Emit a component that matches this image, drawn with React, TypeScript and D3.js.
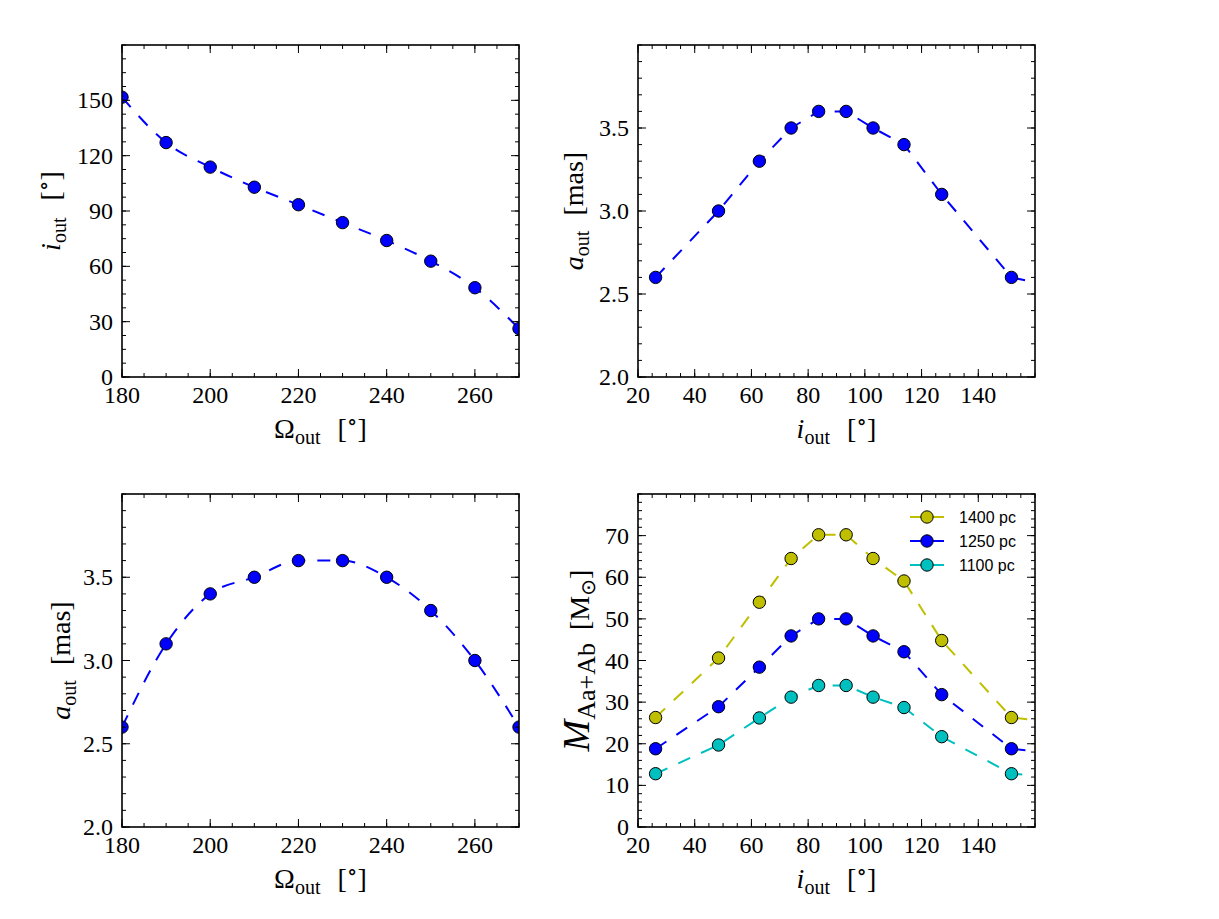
import React from 'react';
import * as d3 from 'd3';

// ---- data ----
const omegaOut = [180, 190, 200, 210, 220, 230, 240, 250, 260, 270];
const inclOut = [151.7, 127.1, 113.8, 102.9, 93.4, 83.7, 74.0, 62.8, 48.4, 26.2];
const aOutVsOmega = [2.6, 3.1, 3.4, 3.5, 3.6, 3.6, 3.5, 3.3, 3.0, 2.6];

const inclAsc = [26.2, 48.4, 62.8, 74.0, 83.7, 93.4, 102.9, 113.8, 127.1, 151.7];
const aOutVsIncl = [2.6, 3.0, 3.3, 3.5, 3.6, 3.6, 3.5, 3.4, 3.1, 2.6];
const mass1400 = [26.3, 40.6, 54.0, 64.5, 70.2, 70.2, 64.5, 59.1, 44.8, 26.3];
const mass1250 = [18.8, 28.9, 38.4, 45.9, 50.0, 50.0, 45.9, 42.1, 31.8, 18.8];
const mass1100 = [12.8, 19.7, 26.2, 31.2, 34.0, 34.0, 31.2, 28.7, 21.7, 12.8];

// model-curve values where the dashed curves leave the right edge (i = 160)
const tailIncl = 160;
const aOutTail = 2.57;
const mass1400Tail = 25.7;
const mass1250Tail = 18.2;
const mass1100Tail = 12.4;

const legendLabels = ['1400 pc', '1250 pc', '1100 pc'];

const omegaTicks = [180, 200, 220, 240, 260];
const inclTicks = [20, 40, 60, 80, 100, 120, 140];
const inclYTicks = [0, 30, 60, 90, 120, 150];
const aTicks = [2.0, 2.5, 3.0, 3.5];
const massTicks = [0, 10, 20, 30, 40, 50, 60, 70];

const BLUE = '#0000ff';
const OLIVE = '#bfbf00';
const CYAN = '#00bfbf';
const SERIF = "'Liberation Serif', 'DejaVu Serif', serif";
const SANS = "'Liberation Sans', Arial, sans-serif";

const tickFont: React.CSSProperties = { fontFamily: SERIF, fontSize: '24px' };
const labelFont: React.CSSProperties = { fontFamily: SERIF, fontSize: '28px' };
const subFont: React.CSSProperties = { fontSize: '20px' };

type Series = { xs: number[]; ys: number[]; lx: number[]; ly: number[]; color: string };

type PanelProps = {
  id: string;
  x0: number; y0: number; x1: number; y1: number;
  xDomain: [number, number]; yDomain: [number, number];
  xTicks: number[]; xMinor: number;
  yTicks: number[]; yMinor: number;
  yFmt: (v: number) => string;
  series: Series[];
  curve: d3.CurveFactory;
  children?: React.ReactNode;
};

function Panel(p: PanelProps) {
  const xs = d3.scaleLinear().domain(p.xDomain).range([p.x0, p.x1]);
  const ys = d3.scaleLinear().domain(p.yDomain).range([p.y1, p.y0]);
  const eps = 1e-6;
  const xMinorVals = d3.range(p.xDomain[0], p.xDomain[1] + eps, p.xMinor);
  const yMinorVals = d3.range(p.yDomain[0], p.yDomain[1] + eps, p.yMinor);
  const line = d3.line<[number, number]>().x(d => xs(d[0])).y(d => ys(d[1])).curve(p.curve);
  const tickStroke = { stroke: '#000', strokeWidth: 1 };
  return (
    <g>
      <defs>
        <clipPath id={p.id}>
          <rect x={p.x0} y={p.y0} width={p.x1 - p.x0} height={p.y1 - p.y0} />
        </clipPath>
      </defs>
      <g clipPath={`url(#${p.id})`}>
        {p.series.map((s, i) => (
          <path key={'l' + i} d={line(s.lx.map((x, k) => [x, s.ly[k]] as [number, number])) || ''}
            fill="none" stroke={s.color} strokeWidth={2} strokeDasharray="13 12" />
        ))}
        {p.series.map((s, i) => s.xs.map((x, k) => (
          <circle key={'m' + i + '_' + k} cx={xs(x)} cy={ys(s.ys[k])} r={6.2}
            fill={s.color} stroke="#000" strokeWidth={1} />
        )))}
      </g>
      {xMinorVals.map((v, i) => (
        <g key={'xm' + i}>
          <line x1={xs(v)} x2={xs(v)} y1={p.y1} y2={p.y1 - 4} {...tickStroke} />
          <line x1={xs(v)} x2={xs(v)} y1={p.y0} y2={p.y0 + 4} {...tickStroke} />
        </g>
      ))}
      {yMinorVals.map((v, i) => (
        <g key={'ym' + i}>
          <line x1={p.x0} x2={p.x0 + 4} y1={ys(v)} y2={ys(v)} {...tickStroke} />
          <line x1={p.x1} x2={p.x1 - 4} y1={ys(v)} y2={ys(v)} {...tickStroke} />
        </g>
      ))}
      {p.xTicks.map((v, i) => (
        <g key={'xt' + i}>
          <line x1={xs(v)} x2={xs(v)} y1={p.y1} y2={p.y1 - 8} {...tickStroke} />
          <line x1={xs(v)} x2={xs(v)} y1={p.y0} y2={p.y0 + 8} {...tickStroke} />
          <text x={xs(v)} y={p.y1 + 26} textAnchor="middle" style={tickFont}>{String(v)}</text>
        </g>
      ))}
      {p.yTicks.map((v, i) => (
        <g key={'yt' + i}>
          <line x1={p.x0} x2={p.x0 + 8} y1={ys(v)} y2={ys(v)} {...tickStroke} />
          <line x1={p.x1} x2={p.x1 - 8} y1={ys(v)} y2={ys(v)} {...tickStroke} />
          <text x={p.x0 - 9} y={ys(v) + 8} textAnchor="end" style={tickFont}>{p.yFmt(v)}</text>
        </g>
      ))}
      <rect x={p.x0} y={p.y0} width={p.x1 - p.x0} height={p.y1 - p.y0} fill="none" stroke="#000" strokeWidth={1.6} />
      {p.children}
    </g>
  );
}

const Deg = () => (
  <>
    <tspan dx={10}>[</tspan>
    <tspan style={{ fontSize: '22px', fontFamily: "'DejaVu Serif', serif" }} dy={-9}>∘</tspan>
    <tspan dy={9}>]</tspan>
  </>
);

function XLabelOmega({ cx, y }: { cx: number; y: number }) {
  return (
    <text x={cx} y={y} textAnchor="middle" style={labelFont}>
      Ω<tspan style={subFont} dy={6}>out</tspan><tspan dy={-6}> </tspan><Deg />
    </text>
  );
}
function XLabelIncl({ cx, y }: { cx: number; y: number }) {
  return (
    <text x={cx} y={y} textAnchor="middle" style={labelFont}>
      <tspan fontStyle="italic">i</tspan><tspan style={subFont} dy={6}>out</tspan><tspan dy={-6}> </tspan><Deg />
    </text>
  );
}

export default function App() {
  const fmtInt = d3.format('d');
  const fmt1 = d3.format('.1f');
  const TL = { x0: 122, x1: 519, y0: 45, y1: 377 };
  const TR = { x0: 638, x1: 1035, y0: 45, y1: 377 };
  const BL = { x0: 122, x1: 519, y0: 494, y1: 827 };
  const BR = { x0: 638, x1: 1035, y0: 494, y1: 827 };

  const legendColors = [OLIVE, BLUE, CYAN];

  return (
    <svg width={1219} height={919} style={{ position: 'absolute', left: 0, top: 0, background: '#fff' }}>
      <rect x={0} y={0} width={1219} height={919} fill="#fff" />
      <Panel id="cTL" {...TL} xDomain={[180, 270]} yDomain={[0, 180]} xTicks={omegaTicks} xMinor={5}
        yTicks={inclYTicks} yMinor={7.5} yFmt={fmtInt} curve={d3.curveMonotoneX}
        series={[{ xs: omegaOut, ys: inclOut, lx: omegaOut, ly: inclOut, color: BLUE }]}>
        <XLabelOmega cx={(TL.x0 + TL.x1) / 2} y={438} />
        <text transform={`translate(60,${(TL.y0 + TL.y1) / 2}) rotate(-90)`} textAnchor="middle" style={labelFont}>
          <tspan fontStyle="italic">i</tspan><tspan style={subFont} dy={6}>out</tspan><tspan dy={-6}> </tspan><Deg />
        </text>
      </Panel>

      <Panel id="cTR" {...TR} xDomain={[20, 160]} yDomain={[2, 4]} xTicks={inclTicks} xMinor={5}
        yTicks={aTicks} yMinor={0.1} yFmt={fmt1} curve={d3.curveLinear}
        series={[{ xs: inclAsc, ys: aOutVsIncl, lx: [...inclAsc, tailIncl], ly: [...aOutVsIncl, aOutTail], color: BLUE }]}>
        <XLabelIncl cx={(TR.x0 + TR.x1) / 2} y={438} />
        <text transform={`translate(583,${(TR.y0 + TR.y1) / 2}) rotate(-90)`} textAnchor="middle" style={labelFont}>
          <tspan fontStyle="italic">a</tspan><tspan style={subFont} dy={6}>out</tspan><tspan dy={-6}> </tspan><tspan dx={8}>[mas]</tspan>
        </text>
      </Panel>

      <Panel id="cBL" {...BL} xDomain={[180, 270]} yDomain={[2, 4]} xTicks={omegaTicks} xMinor={5}
        yTicks={aTicks} yMinor={0.1} yFmt={fmt1} curve={d3.curveMonotoneX}
        series={[{ xs: omegaOut, ys: aOutVsOmega, lx: omegaOut, ly: aOutVsOmega, color: BLUE }]}>
        <XLabelOmega cx={(BL.x0 + BL.x1) / 2} y={888} />
        <text transform={`translate(70,${(BL.y0 + BL.y1) / 2}) rotate(-90)`} textAnchor="middle" style={labelFont}>
          <tspan fontStyle="italic">a</tspan><tspan style={subFont} dy={6}>out</tspan><tspan dy={-6}> </tspan><tspan dx={8}>[mas]</tspan>
        </text>
      </Panel>

      <Panel id="cBR" {...BR} xDomain={[20, 160]} yDomain={[0, 80]} xTicks={inclTicks} xMinor={5}
        yTicks={massTicks} yMinor={2} yFmt={fmtInt} curve={d3.curveLinear}
        series={[
          { xs: inclAsc, ys: mass1400, lx: [...inclAsc, tailIncl], ly: [...mass1400, mass1400Tail], color: OLIVE },
          { xs: inclAsc, ys: mass1250, lx: [...inclAsc, tailIncl], ly: [...mass1250, mass1250Tail], color: BLUE },
          { xs: inclAsc, ys: mass1100, lx: [...inclAsc, tailIncl], ly: [...mass1100, mass1100Tail], color: CYAN },
        ]}>
        <XLabelIncl cx={(BR.x0 + BR.x1) / 2} y={888} />
        <text transform={`translate(589,${(BR.y0 + BR.y1) / 2}) rotate(-90)`} textAnchor="middle" style={labelFont}>
          <tspan fontStyle="italic" style={{ fontSize: '38px' }}>M</tspan><tspan style={{ fontSize: '26px' }} dy={6}>Aa+Ab</tspan><tspan dy={-6}> </tspan>
          <tspan dx={6}>[M</tspan><tspan style={{ fontSize: '20px', fontFamily: "'DejaVu Sans', sans-serif" }} dy={6}>⊙</tspan><tspan dy={-6}>]</tspan>
        </text>
        {legendLabels.map((lab, i) => {
          const y = 517 + i * 24;
          return (
            <g key={lab}>
              <line x1={910} x2={944} y1={y} y2={y} stroke={legendColors[i]} strokeWidth={2} strokeDasharray="13 8" />
              <circle cx={927} cy={y} r={6.2} fill={legendColors[i]} stroke="#000" strokeWidth={1} />
              <text x={959} y={y + 6} style={{ fontFamily: SANS, fontSize: '16px' }}>{lab}</text>
            </g>
          );
        })}
      </Panel>
    </svg>
  );
}
